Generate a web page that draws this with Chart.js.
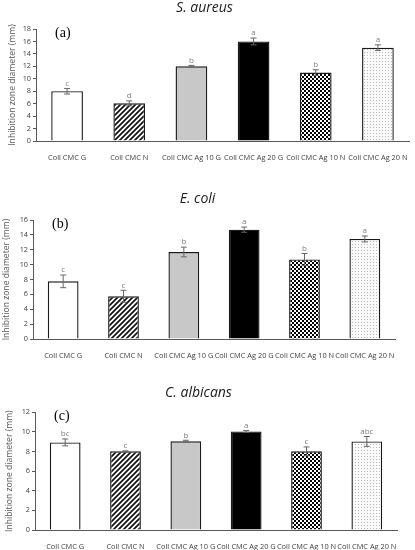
<!DOCTYPE html>
<html>
<head>
<meta charset="utf-8">
<script src="https://cdn.jsdelivr.net/npm/chart.js@4.4.1/dist/chart.umd.min.js"></script>
<style>
  html, body { margin: 0; padding: 0; background: #fff; }
  body { width: 415px; height: 550px; position: relative; overflow: hidden; }
  canvas { position: absolute; left: 0; }
</style>
</head>
<body>
<canvas id="c1" width="415" height="163" style="top:0px"></canvas>
<canvas id="c2" width="415" height="180" style="top:180px"></canvas>
<canvas id="c3" width="415" height="182" style="top:368px"></canvas>
<script>
// ---- data ----
const categories = ['Coll CMC G', 'Coll CMC N', 'Coll CMC Ag 10 G', 'Coll CMC Ag 20 G', 'Coll CMC Ag 10 N', 'Coll CMC Ag 20 N'];

const saureusValues  = [8.0, 6.05, 12.0, 16.0, 11.0, 15.0];
const saureusErrors  = [0.45, 0.4, 0.15, 0.55, 0.45, 0.45];
const saureusLetters = ['c', 'd', 'b', 'a', 'b', 'a'];

const ecoliValues  = [7.75, 5.75, 11.7, 14.7, 10.7, 13.45];
const ecoliErrors  = [0.85, 0.8, 0.65, 0.35, 0.8, 0.4];
const ecoliLetters = ['c', 'c', 'b', 'a', 'b', 'a'];

const calbValues  = [8.93, 8.02, 9.05, 10.05, 8.02, 9.03];
const calbErrors  = [0.35, 0.05, 0.1, 0.1, 0.45, 0.5];
const calbLetters = ['bc', 'c', 'b', 'a', 'c', 'abc'];

const yMaxA = 18, yMaxB = 16, yMaxC = 12;
const yStep = 2;
// ---------------

function makePattern(size, drawFn) {
  const c = document.createElement('canvas');
  c.width = size; c.height = size;
  const g = c.getContext('2d');
  drawFn(g, size);
  return c.getContext('2d').createPattern(c, 'repeat');
}
const hatch = makePattern(5, (g, s) => {
  g.fillStyle = '#fff'; g.fillRect(0, 0, s, s);
  g.strokeStyle = '#111'; g.lineWidth = 1.7;
  g.beginPath();
  g.moveTo(-1, s + 1); g.lineTo(s + 1, -1);
  g.moveTo(-1, 1); g.lineTo(1, -1);
  g.moveTo(s - 1, s + 1); g.lineTo(s + 1, s - 1);
  g.stroke();
});
const checker = makePattern(4, (g, s) => {
  g.fillStyle = '#000'; g.fillRect(0, 0, s, s);
  g.fillStyle = '#fff';
  g.fillRect(0, 0, 2, 2); g.fillRect(2, 2, 2, 2);
});
const dots = makePattern(3, (g, s) => {
  g.fillStyle = '#fafafa'; g.fillRect(0, 0, s, s);
  g.fillStyle = '#b8b8b8'; g.fillRect(1, 1, 1, 1);
});
const fills = ['#ffffff', hatch, '#c8c8c8', '#000000', checker, dots];

const errorPlugin = {
  id: 'errs',
  afterDatasetsDraw(chart, args, opts) {
    const ctx = chart.ctx;
    const meta = chart.getDatasetMeta(0);
    const y = chart.scales.y;
    ctx.save();
    meta.data.forEach((bar, i) => {
      const v = opts.values[i], e = opts.errors[i];
      const top = y.getPixelForValue(v + e), bot = y.getPixelForValue(v - e);
      const x = bar.x;
      ctx.strokeStyle = '#666';
      ctx.lineWidth = 1;
      ctx.beginPath();
      ctx.moveTo(x, top); ctx.lineTo(x, bot);
      ctx.moveTo(x - 3, top); ctx.lineTo(x + 3, top);
      ctx.moveTo(x - 3, bot); ctx.lineTo(x + 3, bot);
      ctx.stroke();
      ctx.fillStyle = '#808080';
      ctx.font = '8px "Open Sans", sans-serif';
      ctx.textAlign = 'center';
      ctx.textBaseline = 'bottom';
      ctx.fillText(opts.letters[i], x, top - 1);
    });
    const ca = chart.chartArea;
    ctx.fillStyle = '#000';
    ctx.font = '14px "Liberation Serif", serif';
    ctx.textAlign = 'left';
    ctx.textBaseline = 'middle';
    ctx.fillText(opts.panel, ca.left + 19, ca.top + 4);
    ctx.restore();
  }
};

function build(id, title, values, errors, letters, panel, yMax, cfg) {
  new Chart(document.getElementById(id), {
    type: 'bar',
    data: {
      labels: categories,
      datasets: [{
        data: values,
        backgroundColor: fills,
        borderColor: '#1a1a1a',
        borderWidth: 1.4,
        barPercentage: 0.51,
        categoryPercentage: 1.0
      }]
    },
    options: {
      responsive: false,
      animation: false,
      devicePixelRatio: 1,
      layout: { padding: { left: 0, right: cfg.right, top: 0, bottom: 0 } },
      plugins: {
        legend: { display: false },
        tooltip: { enabled: false },
        title: {
          display: true,
          text: title,
          color: '#1a1a1a',
          font: { family: '"Open Sans", sans-serif', size: 14, style: 'italic', weight: 'normal', lineHeight: 1.2 },
          padding: { top: cfg.tTop, bottom: cfg.tBot }
        },
        errs: { values, errors, letters, panel }
      },
      scales: {
        x: {
          grid: { display: false },
          border: { display: true, color: '#595959', width: 1 },
          ticks: {
            autoSkip: false, maxRotation: 0, minRotation: 0, padding: 4,
            color: '#404040',
            font: { family: '"Open Sans", sans-serif', size: 7.4 }
          },
          afterFit(s) { s.height = cfg.xh; }
        },
        y: {
          min: 0, max: yMax,
          ticks: {
            stepSize: yStep, padding: 2,
            color: '#404040',
            font: { family: '"Open Sans", sans-serif', size: 7.3 }
          },
          grid: { display: true, drawOnChartArea: false, drawTicks: true, tickLength: 3, color: '#595959' },
          border: { display: true, color: '#595959', width: 1 },
          title: {
            display: true,
            text: 'Inhibition zone diameter (mm)',
            color: '#595959',
            font: { family: '"Open Sans", sans-serif', size: 8.6 },
            padding: { top: cfg.ytp, bottom: 0 }
          },
          afterFit(s) { s.width = cfg.left; }
        }
      }
    },
    plugins: [errorPlugin]
  });
}

build('c1', 'S. aureus', saureusValues, saureusErrors, saureusLetters, '(a)', yMaxA,
  { right: 6, left: 36, tTop: 0.1, tBot: 12.1, xh: 22, ytp: 7 });
build('c2', 'E. coli', ecoliValues, ecoliErrors, ecoliLetters, '(b)', yMaxB,
  { right: 20, left: 33, tTop: 10.6, tBot: 12.6, xh: 21, ytp: 1 });
build('c3', 'C. albicans', calbValues, calbErrors, calbLetters, '(c)', yMaxC,
  { right: 18, left: 35, tTop: 16.6, tBot: 10.9, xh: 20, ytp: 4 });
</script>
</body>
</html>
